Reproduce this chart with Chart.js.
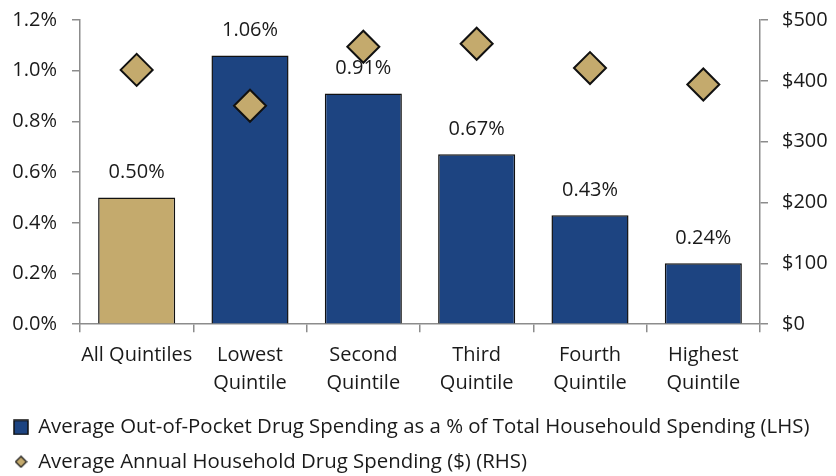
<!DOCTYPE html>
<html>
<head>
<meta charset="utf-8">
<script src="https://cdn.jsdelivr.net/npm/chart.js@4"></script>
<style>
  html, body { margin: 0; padding: 0; background: #fff; }
  #wrap { width: 836px; height: 476px; }
</style>
</head>
<body>
<div id="wrap"><canvas id="myChart" width="836" height="476"></canvas></div>
<script>
// ── data ──
const categories = ['All Quintiles', ['Lowest', 'Quintile'], ['Second', 'Quintile'],
                    ['Third', 'Quintile'], ['Fourth', 'Quintile'], ['Highest', 'Quintile']];
const sharePct   = [0.50, 1.06, 0.91, 0.67, 0.43, 0.24];   // LHS, %
const spendUsd   = [418, 359, 456, 461, 421, 394];          // RHS, $
const leftTicks  = [0, 0.2, 0.4, 0.6, 0.8, 1.0, 1.2];
const rightTicks = [0, 100, 200, 300, 400, 500];

const NAVY = '#1D4481';
const TAN  = '#C4AA6D';
const FONT = '"Open Sans", "Noto Sans", sans-serif';

Chart.defaults.font.family = FONT;
Chart.defaults.font.size = 20;
Chart.defaults.color = '#1a1a1a';

// legend markers
function marker(kind) {
  const c = document.createElement('canvas');
  const g = c.getContext('2d');
  if (kind === 'square') {
    c.width = 16; c.height = 16;
    g.fillStyle = NAVY; g.fillRect(1, 1, 14, 14);
    g.strokeStyle = '#111'; g.lineWidth = 1.5; g.strokeRect(1, 1, 14, 14);
  } else {
    c.width = 13; c.height = 13;
    g.beginPath();
    g.moveTo(6.5, 1); g.lineTo(12, 6.5); g.lineTo(6.5, 12); g.lineTo(1, 6.5); g.closePath();
    g.fillStyle = TAN; g.fill();
    g.strokeStyle = '#111'; g.lineWidth = 1.2; g.stroke();
  }
  return c;
}

// value labels above bars
const barLabels = {
  id: 'barLabels',
  afterDatasetsDraw(chart) {
    const meta = chart.getDatasetMeta(0);
    const ctx = chart.ctx;
    ctx.save();
    ctx.font = '20px ' + FONT;
    ctx.fillStyle = '#1a1a1a';
    ctx.textAlign = 'center';
    ctx.textBaseline = 'middle';
    meta.data.forEach((bar, i) => {
      ctx.fillText(sharePct[i].toFixed(2) + '%', bar.x, bar.y - 25);
    });
    ctx.restore();
  }
};

// pull the legend a little lower, like the original
const legendShift = {
  id: 'legendShift',
  beforeInit(chart) {
    const lg = chart.legend;
    const fit = lg.fit;
    lg.fit = function () { fit.call(this); this.height -= 6; };
  }
};

const axisGrid = { display: true, drawOnChartArea: false, drawTicks: true, tickLength: 8, color: '#8c8c8c', lineWidth: 1.5 };
const axisBorder = { display: true, color: '#8c8c8c', width: 1.5 };

new Chart(document.getElementById('myChart'), {
  type: 'bar',
  data: {
    labels: categories,
    datasets: [
      {
        label: 'Average Out-of-Pocket Drug Spending as a % of Total Househould Spending (LHS)',
        data: sharePct,
        backgroundColor: sharePct.map((v, i) => i === 0 ? TAN : NAVY),
        borderColor: '#111',
        borderWidth: 1.5,
        barPercentage: 0.68,
        categoryPercentage: 1,
        yAxisID: 'y',
        order: 2
      },
      {
        type: 'line',
        label: 'Average Annual Household Drug Spending ($) (RHS)',
        data: spendUsd,
        showLine: false,
        pointStyle: 'rectRot',
        pointRadius: 16,
        pointBackgroundColor: TAN,
        pointBorderColor: '#111',
        pointBorderWidth: 2,
        backgroundColor: TAN,
        borderColor: '#111',
        yAxisID: 'y1',
        order: 1
      }
    ]
  },
  options: {
    responsive: false,
    animation: false,
    layout: { padding: { top: 20, left: 0, right: 0, bottom: 0 } },
    plugins: {
      tooltip: { enabled: false },
      legend: {
        position: 'bottom',
        align: 'start',
        labels: {
          usePointStyle: true,
          boxWidth: 14,
          boxHeight: 14,
          padding: 14,
          font: { size: 20.4 },
          sort: (a, b) => a.datasetIndex - b.datasetIndex,
          generateLabels: chart => chart.data.datasets.map((ds, i) => ({
            text: ds.label,
            datasetIndex: i,
            pointStyle: marker(i === 0 ? 'square' : 'diamond'),
            fillStyle: i === 0 ? NAVY : TAN,
            strokeStyle: '#111',
            lineWidth: 0,
            fontColor: '#1a1a1a'
          }))
        }
      }
    },
    scales: {
      x: {
        grid: Object.assign({}, axisGrid, { offset: true }),
        border: axisBorder,
        ticks: { color: '#1a1a1a', padding: 9, maxRotation: 0, autoSkip: false, font: { size: 20, lineHeight: 1.4 } },
        afterFit: s => { s.height = 79; }
      },
      y: {
        position: 'left',
        min: 0, max: 1.2,
        grid: axisGrid,
        border: axisBorder,
        afterBuildTicks: s => { s.ticks = leftTicks.map(v => ({ value: v })); },
        ticks: { color: '#1a1a1a', padding: 15, callback: v => v.toFixed(1) + '%' },
        afterFit: s => { s.width = 80; s.paddingTop = 0; s.paddingBottom = 0; }
      },
      y1: {
        position: 'right',
        min: 0, max: 500,
        grid: axisGrid,
        border: axisBorder,
        afterBuildTicks: s => { s.ticks = rightTicks.map(v => ({ value: v })); },
        ticks: { color: '#1a1a1a', padding: 14, callback: v => '$' + v },
        afterFit: s => { s.width = 76; s.paddingTop = 0; s.paddingBottom = 0; }
      }
    }
  },
  plugins: [barLabels, legendShift]
});
</script>
</body>
</html>
